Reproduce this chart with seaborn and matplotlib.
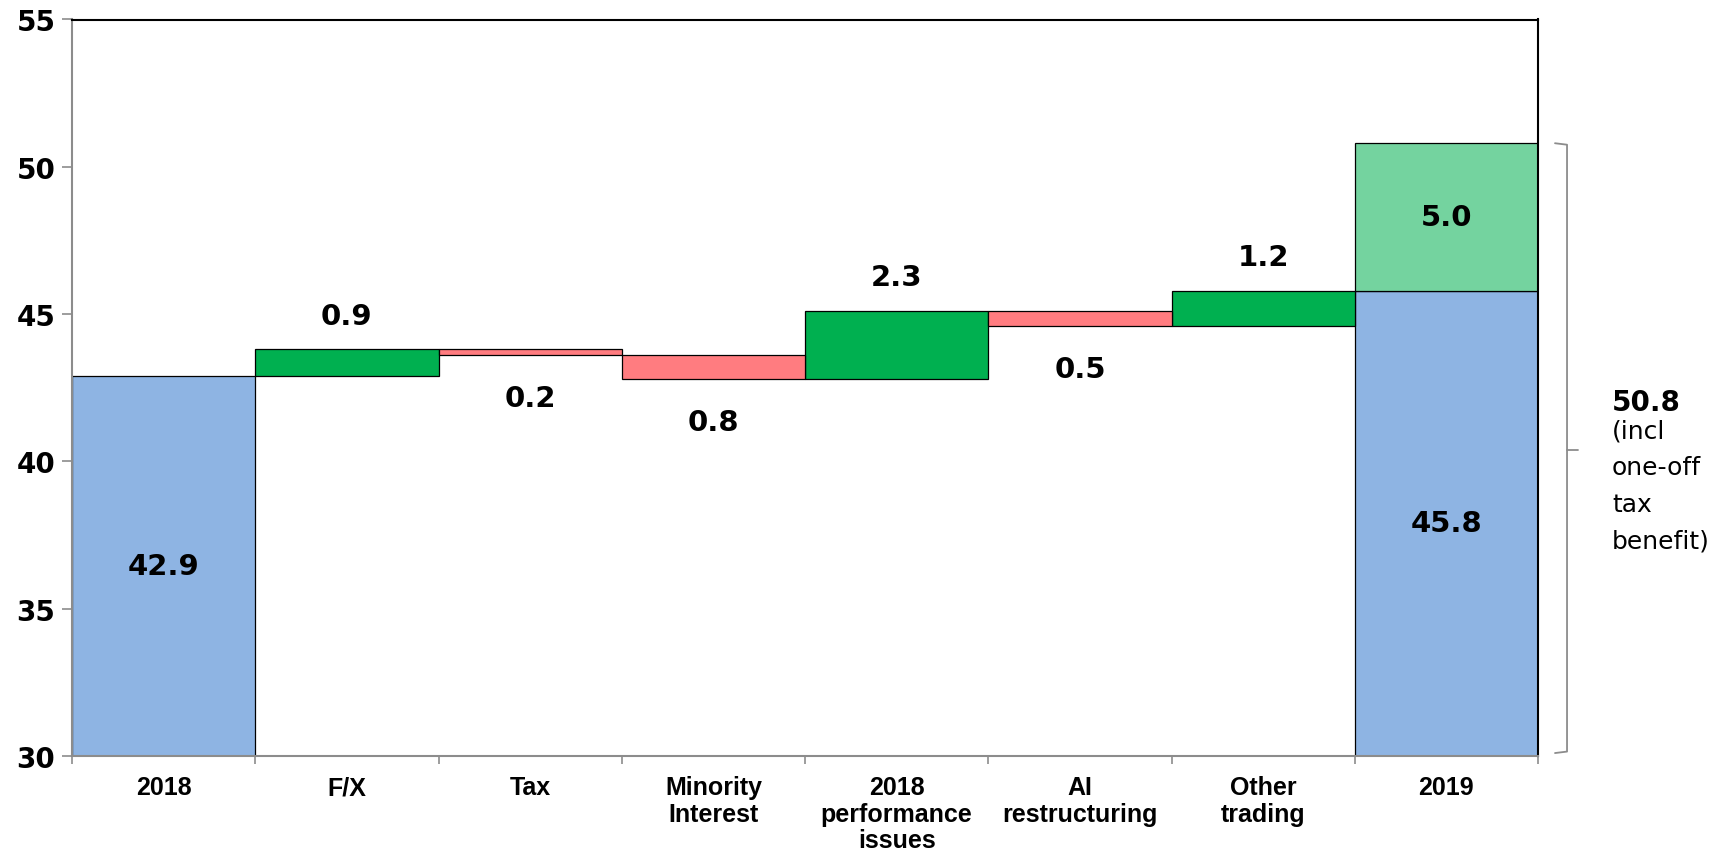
import numpy as np
import pandas as pd
import matplotlib
matplotlib.use("Agg")
import matplotlib.pyplot as plt
import matplotlib.transforms as mtransforms
import seaborn as sns

# Bridge from 2018 to 2019 earnings
categories = ["2018", "F/X", "Tax", "Minority\nInterest", "2018\nperformance\nissues",
              "AI\nrestructuring", "Other\ntrading", "2019"]
start_value = 42.9
deltas = [0.9, -0.2, -0.8, 2.3, -0.5, 1.2]
end_value = 45.8
one_off = 5.0
total_label = "50.8"
total_note = "(incl\none-off\ntax\nbenefit)"

y_floor = 30
y_ticks = [30, 35, 40, 45, 50, 55]

BLUE = "#8EB4E3"
GREEN = "#00B050"
RED = "#FF7C80"
LIGHT_GREEN = "#74D39F"
AXIS_GREY = "#8c8c8c"

sns.set_theme(style="white")
plt.rcParams["font.family"] = ["DejaVu Sans"]
plt.rcParams["text.color"] = "black"
plt.rcParams["xtick.labelcolor"] = "black"
plt.rcParams["ytick.labelcolor"] = "black"

# Build bar segments (bottom / height) for the waterfall
rows = []
rows.append(dict(cat=categories[0], bottom=y_floor, height=start_value - y_floor, kind="base"))
level = start_value
for cat, d in zip(categories[1:-1], deltas):
    lo, hi = min(level, level + d), max(level, level + d)
    rows.append(dict(cat=cat, bottom=lo, height=hi - lo, kind="up" if d > 0 else "down"))
    level += d
rows.append(dict(cat=categories[-1], bottom=y_floor, height=end_value - y_floor, kind="base"))
rows.append(dict(cat=categories[-1], bottom=end_value, height=one_off, kind="oneoff"))
df = pd.DataFrame(rows)

fig = plt.figure(figsize=(17.1, 8.54), dpi=100)
ax = fig.add_axes([72 / 1710, 1 - 757 / 854, (1538 - 72) / 1710, (757 - 20.5) / 854])

colors = {"base": BLUE, "up": GREEN, "down": RED, "oneoff": LIGHT_GREEN}
for kind, col in colors.items():
    sub = df[df["kind"] == kind].copy()
    sub["cat"] = pd.Categorical(sub["cat"], categories=categories, ordered=True)
    sub = sub.sort_values("cat")
    sns.barplot(data=sub, x="cat", y="height", order=categories, bottom=sub["bottom"].values,
                color=col, width=1.0, errorbar=None, edgecolor="black", linewidth=0.9,
                saturation=1, ax=ax)

ax.set_xlim(-0.5, len(categories) - 0.5)
ax.set_ylim(y_floor, 55)
ax.set_yticks(y_ticks)
ax.set_xlabel("")
ax.set_ylabel("")

# Value labels
lab_kw = dict(ha="center", va="center", fontsize=21, fontweight="bold", color="black")
ax.text(0, (y_floor + start_value) / 2, f"{start_value:.1f}", **lab_kw)
level = start_value
for i, d in enumerate(deltas, start=1):
    top = max(level, level + d)
    bot = min(level, level + d)
    if d > 0:
        ax.text(i, top + 1.15, f"{abs(d):.1f}", **lab_kw)
    else:
        ax.text(i, bot - 1.45, f"{abs(d):.1f}", **lab_kw)
    level += d
last = len(categories) - 1
ax.text(last, (y_floor + end_value) / 2, f"{end_value:.1f}", **lab_kw)
ax.text(last, end_value + one_off / 2, f"{one_off:.1f}", **lab_kw)

# Axis styling
for s in ["left", "bottom"]:
    ax.spines[s].set_color(AXIS_GREY)
    ax.spines[s].set_linewidth(1.5)
for s in ["top", "right"]:
    ax.spines[s].set_color("black")
    ax.spines[s].set_linewidth(1.5)

ax.tick_params(axis="y", direction="out", length=7, width=1.2, color=AXIS_GREY,
               labelsize=20, pad=5, left=True, labelcolor="black")
for t in ax.get_yticklabels():
    t.set_fontweight("bold")

ax.set_xticks(range(len(categories)))
ax.set_xticklabels(categories, fontsize=18, fontweight="bold", color="black",
                   family=["Liberation Sans", "DejaVu Sans"], linespacing=1.12)
ax.tick_params(axis="x", which="major", length=0, pad=14)
ax.set_xticks(np.arange(-0.5, len(categories), 1.0), minor=True)
ax.tick_params(axis="x", which="minor", direction="out", length=6, width=1.2,
               color=AXIS_GREY, bottom=True)

# Bracket marking the total including the one-off item
total = end_value + one_off
trans = mtransforms.blended_transform_factory(ax.transAxes, ax.transData)
bx, hook, tip = 1.0198, 1.0116, 1.0273
mid = (y_floor + total) / 2
bracket_kw = dict(color=AXIS_GREY, lw=1.3, transform=trans, clip_on=False)
ax.plot([hook, bx, bx, hook], [total, total - 0.05, y_floor + 0.15, y_floor + 0.1], **bracket_kw)
ax.plot([bx, tip], [mid, mid], **bracket_kw)

fig.text(1612 / 1710, 1 - 403 / 854, total_label, fontsize=20, fontweight="bold",
         ha="left", va="center")
fig.text(1612 / 1710, 1 - 420 / 854, total_note, fontsize=18, ha="left", va="top",
         linespacing=1.65)

fig.savefig("out.png", dpi=100)
